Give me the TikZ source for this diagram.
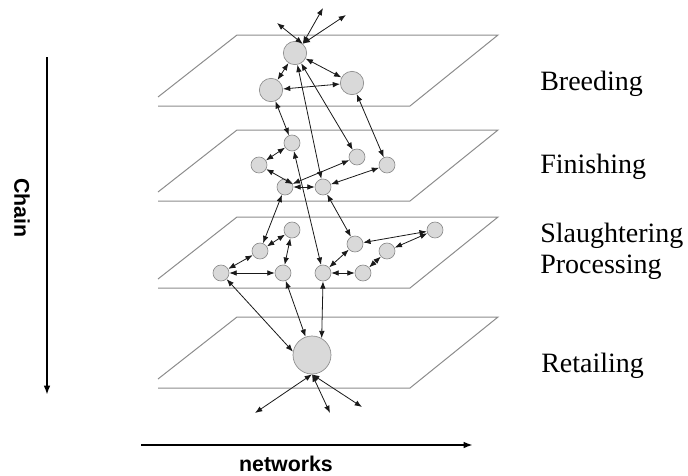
\documentclass[tikz,border=0pt]{standalone}
\usepackage{fontspec}
\setmainfont{Liberation Serif}
\setsansfont{Liberation Sans}
\usetikzlibrary{arrows.meta}

\begin{document}
\begin{tikzpicture}[x=0.75pt,y=-0.75pt,>={Latex[length=5.5pt,width=4.2pt]},
  plane/.style={draw=gray!90,line width=0.75pt},
  small/.style={circle,draw=gray!90,fill=gray!30,line width=0.5pt,inner sep=0pt,minimum size=12pt},
  mid/.style={small,minimum size=17.5pt},
  big/.style={small,minimum size=28.5pt},
  link/.style={<->,black!90,line width=0.6pt},
  axis/.style={->,line width=1.5pt,>={Latex[length=7pt,width=5pt]}},
  stage/.style={anchor=base west,inner sep=0pt,font=\fontsize{21}{25}\selectfont},
  dir/.style={font=\sffamily\bfseries\fontsize{16}{18}\selectfont}]
\useasboundingbox (0,0) rectangle (688,475);
\foreach \t in {35,130,217,317}
  \draw[plane] (158,\t+62) -- (237,\t) -- (498,\t) -- (410,\t+71) -- (158,\t+71);

\node[mid] (B1) at (295,53) {};
\node[mid] (B2) at (271,90) {};
\node[mid] (B3) at (352,83) {};
\foreach \n/\x/\y in {F1/292/143, F2/259/165, F3/357/157, F4/387/165, F5/285/187, F6/323/187,
                      S1/221/273, S2/260/251, S3/292/230, S4/283/273, S5/355/244,
                      S6/387/251, S7/363/273, S8/323/273, S9/435/230}
  \node[small] (\n) at (\x,\y) {};
\node[big] (R) at (312,355) {};

\foreach \a/\b in {B1/B2, B1/B3, B3/B2, B2/F1, B1/F6, B1/F3, B3/F4,
                   F2/F1, F5/F3, F5/F6, F6/F4, F5/S2, F6/S5, F1/S8,
                   S1/S2, S2/S3, S1/S4, S4/S3, S9/S5, S8/S5, S8/S7, S7/S6, S6/S9, S4/R}
  \draw[link] (\a) -- (\b);
\draw[link] (F2) -- (F5.20);
\draw[link] (S1) -- (R.170);
\draw[link] (S8.south) -- (R.60);

\foreach \c/\x/\y in {t1/277/23, t2/323/8, t3/346/15} {
  \coordinate (\c) at (\x,\y);
  \draw[link] (B1.50) -- (\c);
}
\foreach \c/\x/\y in {d1/255/413, d2/330/413, d3/362/407} {
  \coordinate (\c) at (\x,\y);
  \draw[link] (R.south) -- (\c);
}

\node[stage] (breed) at (540,90) {Breeding};
\node[stage] (finish) at (540,173) {Finishing};
\node[stage] (slaught) at (540,242) {Slaughtering};
\node[stage] (process) at (540,273) {Processing};
\node[stage] (retail) at (541,372) {Retailing};

\coordinate (c0) at (47,57);
\coordinate (c1) at (47,395);
\draw[axis] (c0) -- (c1);
\node[dir,rotate=-90] (chain) at (22,208) {Chain};
\coordinate (n0) at (141,445);
\coordinate (n1) at (473,445);
\draw[axis] (n0) -- (n1);
\node[dir] (net) at (286,464) {networks};
\end{tikzpicture}
\end{document}
